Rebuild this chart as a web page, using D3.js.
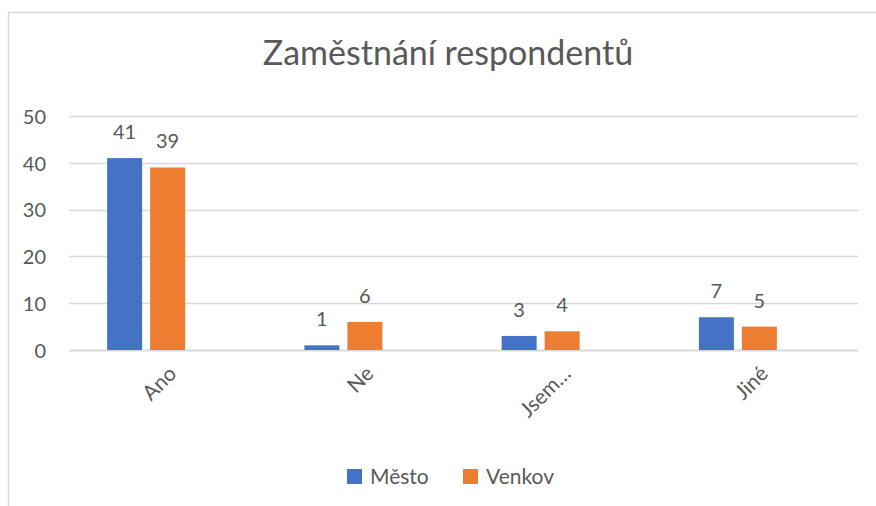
<!DOCTYPE html>
<html>
<head>
<meta charset="utf-8">
<script src="https://cdn.jsdelivr.net/npm/d3@7"></script>
<style>
  body { margin: 0; background: #fff; }
  text { font-family: Lato, "Liberation Sans", sans-serif; fill: #595959; }
</style>
</head>
<body>
<div id="container"></div>
<script>
var width = 876,
    height = 506;

// data
var categories = ["Ano", "Ne", "Jsem…", "Jiné"];
var series = ["Město", "Venkov"];
var mesto = [41, 1, 3, 7];
var venkov = [39, 6, 4, 5];
var yTicks = [0, 10, 20, 30, 40, 50];
var colors = ["#4472C4", "#ED7D31"];

var rows = categories.map(function(c, i){ return {cat: c, values: [mesto[i], venkov[i]]}; });

var svg = d3.select("#container")
            .append("svg")
            .attr("width", width)
            .attr("height", height);

// chart border (only left/top visible in the crop)
svg.append("rect")
   .attr("x", 8.5).attr("y", 12.5)
   .attr("width", 900).attr("height", 600)
   .attr("fill", "none")
   .attr("stroke", "#d9d9d9")
   .attr("stroke-width", 1.5);

svg.append("text")
   .attr("x", 448)
   .attr("y", 65)
   .attr("text-anchor", "middle")
   .style("font-size", "34px")
   .text("Zaměstnání respondentů");

var x0 = d3.scaleBand().domain(categories).range([69, 858]);
// third slot is an empty series in the original workbook, it keeps the pair off-centre
var x1 = d3.scaleBand().domain([0, 1, 2]).range([0, x0.bandwidth()]).paddingInner(0.186).paddingOuter(0.887);
var y = d3.scaleLinear().domain([0, 50]).range([350, 116]);

var grid = svg.append("g");
grid.selectAll("line")
    .data(yTicks)
    .enter().append("line")
    .attr("x1", 69).attr("x2", 858)
    .attr("y1", function(d){ return Math.round(y(d)) + 0.5; })
    .attr("y2", function(d){ return Math.round(y(d)) + 0.5; })
    .attr("stroke", "#d9d9d9")
    .attr("stroke-width", function(d){ return d === 0 ? 2 : 1.5; });

var yAxis = d3.axisLeft(y).tickValues(yTicks).tickSize(0).tickPadding(0);
svg.append("g")
   .attr("transform", "translate(46,0)")
   .call(yAxis)
   .call(function(g){ g.select(".domain").remove(); })
   .selectAll("text")
   .style("font-size", "20px")
   .style("font-family", null)
   .attr("fill", null)
   .attr("dy", "0.36em");

var groups = svg.selectAll(".grp")
    .data(rows)
    .enter().append("g")
    .attr("class", "grp")
    .attr("transform", function(d){ return "translate(" + x0(d.cat) + ",0)"; });

groups.selectAll("rect")
    .data(function(d){ return d.values; })
    .enter().append("rect")
    .attr("x", function(d, i){ return x1(i); })
    .attr("width", x1.bandwidth())
    .attr("y", function(d){ return y(d); })
    .attr("height", function(d){ return y(0) - y(d); })
    .attr("fill", function(d, i){ return colors[i]; });

groups.selectAll(".lbl")
    .data(function(d){ return d.values; })
    .enter().append("text")
    .attr("class", "lbl")
    .attr("x", function(d, i){ return x1(i) + x1.bandwidth() / 2; })
    .attr("y", function(d){ return y(d) - 19; })
    .attr("text-anchor", "middle")
    .style("font-size", "20px")
    .text(function(d){ return d; });

// category labels, rotated
svg.selectAll(".cat")
   .data(categories)
   .enter().append("text")
   .attr("class", "cat")
   .attr("text-anchor", "end")
   .style("font-size", "21px")
   .attr("transform", function(d){ return "translate(" + (x0(d) + x0.bandwidth() / 2 + 10) + ",375) rotate(-45)"; })
   .text(function(d){ return d; });

// legend
var legend = svg.append("g").attr("transform", "translate(347,469)");
var items = legend.selectAll("g")
    .data(series)
    .enter().append("g")
    .attr("transform", function(d, i){ return "translate(" + (i * 116) + ",0)"; });
items.append("rect")
     .attr("width", 15).attr("height", 15)
     .attr("fill", function(d, i){ return colors[i]; });
items.append("text")
     .attr("x", 23).attr("y", 15)
     .style("font-size", "21px")
     .text(function(d){ return d; });
</script>
</body>
</html>
